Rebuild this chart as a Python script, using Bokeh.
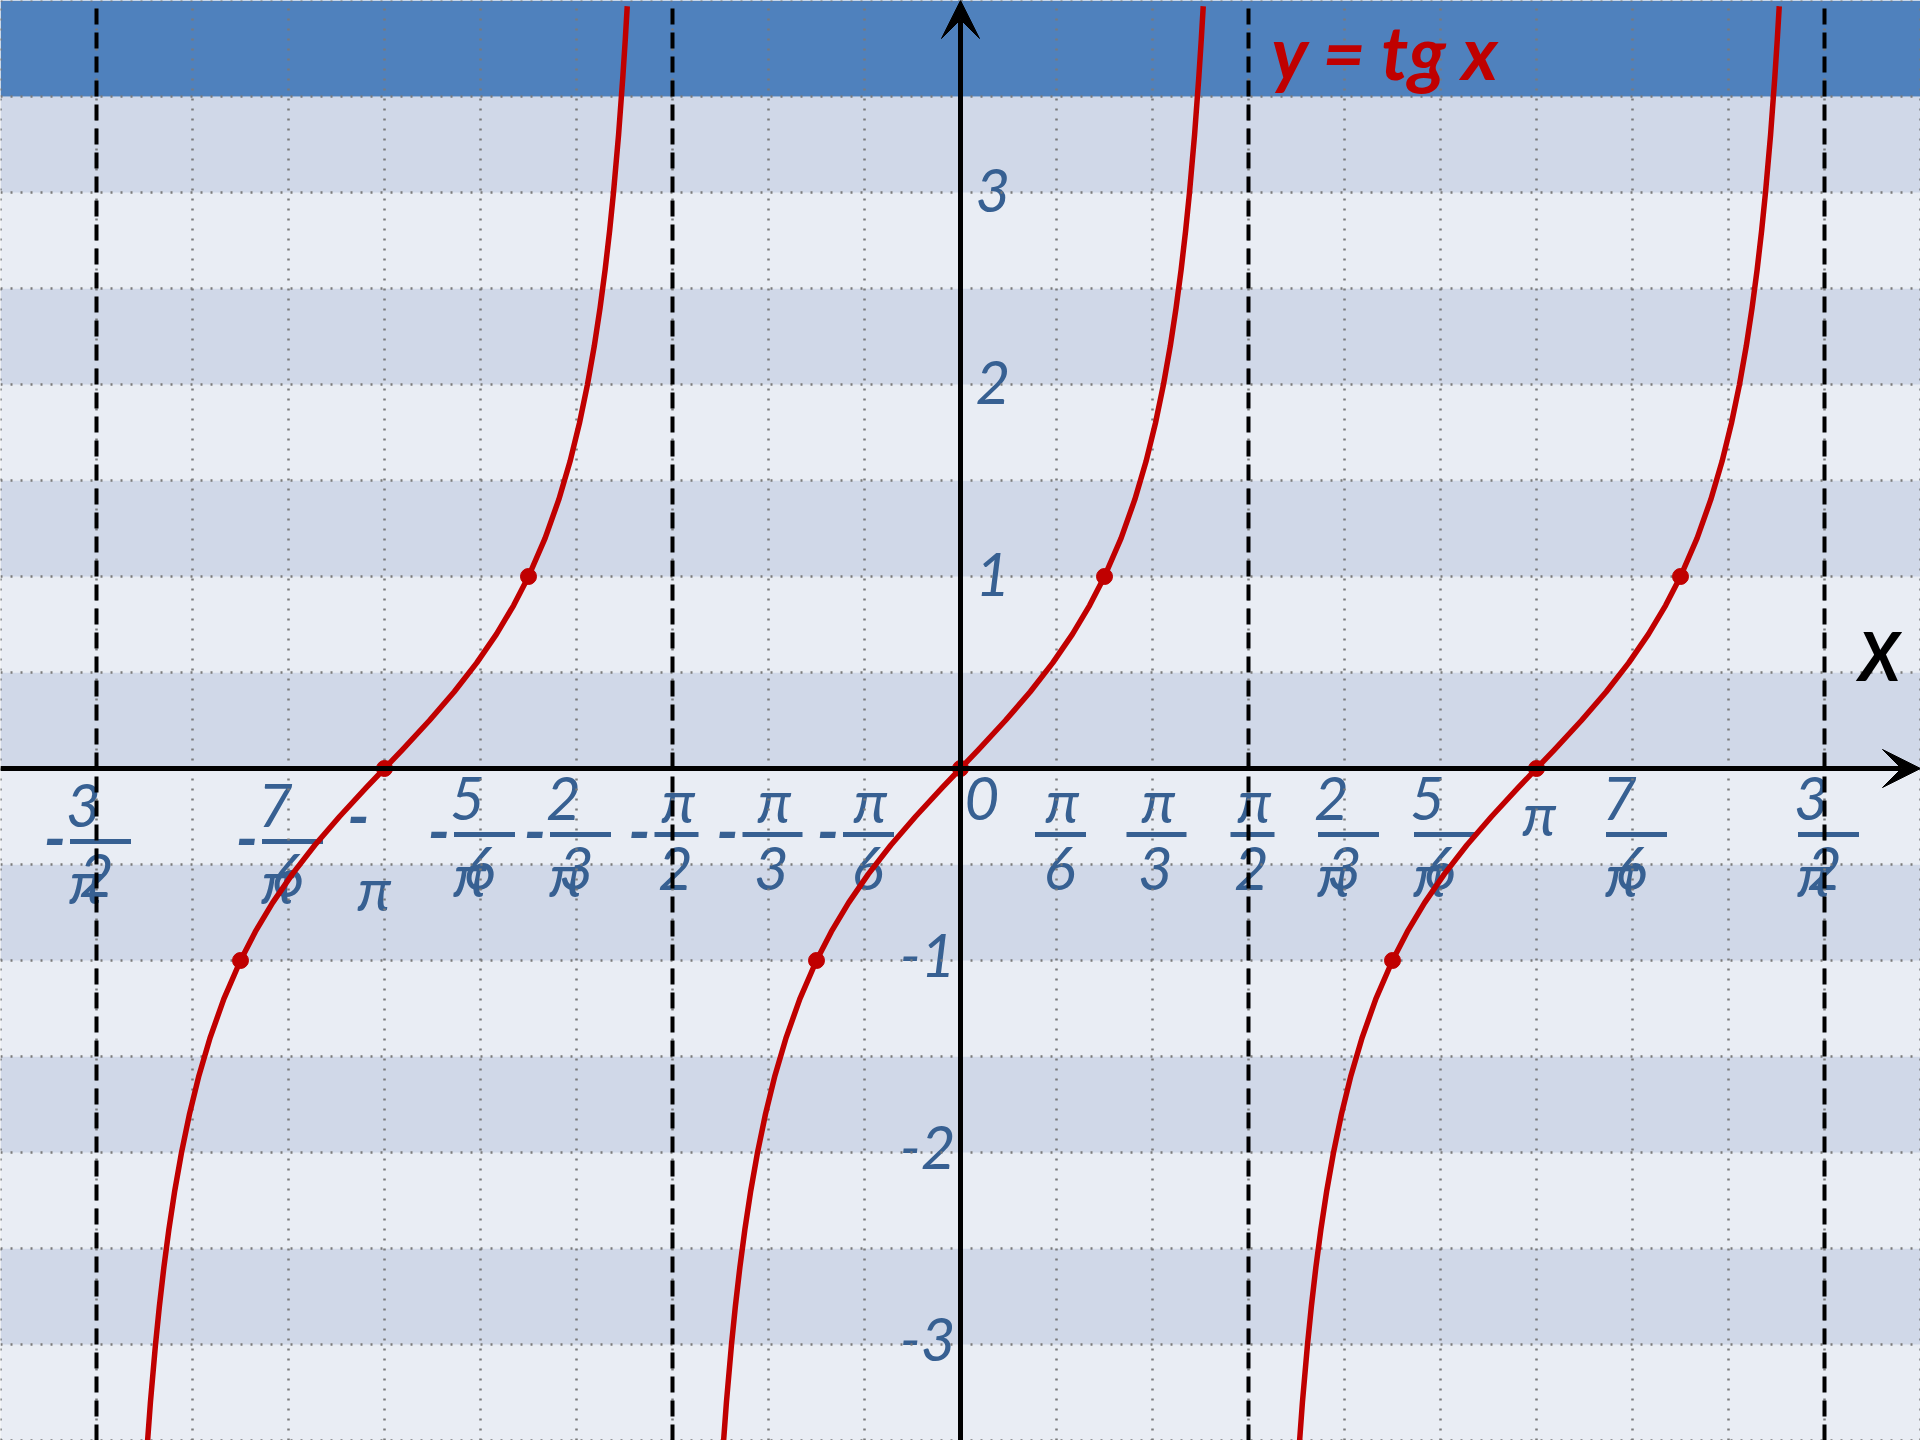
import math
from bokeh.plotting import figure
from bokeh.models import ColumnDataSource, Arrow, VeeHead, Range1d
from bokeh.core.properties import value
from bokeh.embed import file_html
from bokeh.resources import INLINE

PI = math.pi

# ---------------- data ----------------
title_text = "y = tg x"
x_axis_label = "X"

# one branch of y = tg x: offset from the branch centre (rad) and value
branch_dx = [-1.2998, -1.2766, -1.2490, -1.2278, -1.2036, -1.1760, -1.1442, -1.1071, -1.0637,
             -1.0122, -0.9505, -0.8761, -0.7854, -0.7045, -0.6107, -0.5029, -0.3805, -0.2450,
             -0.0997, 0.0, 0.0997, 0.2450, 0.3805, 0.5029, 0.6107, 0.7045, 0.7854, 0.8761,
             0.9505, 1.0122, 1.0637, 1.1071, 1.1442, 1.1760, 1.2036, 1.2278, 1.2490, 1.2766,
             1.2998, 1.3135, 1.3240]
branch_y = [-3.6, -3.3, -3.0, -2.8, -2.6, -2.4, -2.2, -2.0, -1.8, -1.6, -1.4, -1.2, -1.0,
            -0.85, -0.7, -0.55, -0.4, -0.25, -0.1, 0.0, 0.1, 0.25, 0.4, 0.55, 0.7, 0.85, 1.0,
            1.2, 1.4, 1.6, 1.8, 2.0, 2.2, 2.4, 2.6, 2.8, 3.0, 3.3, 3.6, 3.8, 3.97]
branch_centres = [-PI, 0.0, PI]

# marked points
dot_x = [-5 * PI / 4, -PI, -3 * PI / 4, -PI / 4, 0.0, PI / 4, 3 * PI / 4, PI, 5 * PI / 4]
dot_y = [-1, 0, 1, -1, 0, 1, -1, 0, 1]

# asymptotes
asymptote_x = [-3 * PI / 2, -PI / 2, PI / 2, 3 * PI / 2]

# x ticks (in units of pi) and their labels
x_tick_coef = [-3/2, -7/6, -1, -5/6, -2/3, -1/2, -1/3, -1/6, 0, 1/6, 1/3, 1/2, 2/3, 5/6, 1, 7/6, 3/2]
x_tick_labels = ["-3π/2", "-7π/6", "-π", "-5π/6", "-2π/3", "-π/2", "-π/3", "-π/6", "0",
                 "π/6", "π/3", "π/2", "2π/3", "5π/6", "π", "7π/6", "3π/2"]

# y ticks
y_ticks = [-3, -2, -1, 1, 2, 3]
y_tick_labels = ["-3", "-2", "-1", "1", "2", "3"]

# ---------------- layout ----------------
W, H = 1920, 1440
XMIN, XMAX = -5 * PI / 3, 5 * PI / 3
YMIN, YMAX = -3.5, 4.0
sx = W / (XMAX - XMIN)
sy = H / (YMAX - YMIN)
LBL_PX = 60
SIGN_PX = 64
TITLE_PX = 74
XNAME_PX = 66


def X(px):
    return XMIN + px / sx


def Y(py, fpx=LBL_PX):
    # wanted baseline py (screen px) -> data y, compensating the renderer's baseline offset
    return YMAX - (py - 0.39 * fpx) / sy


BLUE_TXT = "#376092"
RED = "#C00000"
FONT = value("Lato")

p = figure(width=W, height=H, x_range=Range1d(XMIN, XMAX), y_range=Range1d(YMIN, YMAX),
           x_axis_type=None, y_axis_type=None, toolbar_location=None,
           output_backend="svg", min_border=0, outline_line_color=None)
p.background_fill_color = "#E9EDF4"
p.border_fill_color = "#FFFFFF"

# background bands
n_bands = int(round((YMAX - YMIN) / 0.5))
band_bottom = [YMIN + 0.5 * i for i in range(n_bands)]
band_top = [b + 0.5 for b in band_bottom]
band_col = []
for i in range(n_bands):
    if i == n_bands - 1:
        band_col.append("#4F81BD")
    elif i % 2 == 1:
        band_col.append("#D0D8E8")
    else:
        band_col.append("#E9EDF4")
p.quad(left=XMIN, right=XMAX, bottom=band_bottom, top=band_top, fill_color=band_col,
       line_color=None)

# ---------------- tick labels (below the grid) ----------------
left_t = dict(x=[], y=[], text=[])
center_t = dict(x=[], y=[], text=[])
right_t = dict(x=[], y=[], text=[])
signs = dict(x=[], y=[], text=[])
bars = dict(x=[], y=[], w=[])


def add(d, px, py, t, fpx=LBL_PX):
    d["x"].append(X(px))
    d["y"].append(Y(py, fpx))
    d["text"].append(t)


for c, lab in zip(x_tick_coef, x_tick_labels):
    T = (c * PI - XMIN) * sx
    neg = lab.startswith("-")
    body = lab[1:] if neg else lab
    drop = 7 if c < -1 else 0
    if lab == "0":
        add(left_t, T + 4, 821, "0")
    elif body == "π":
        if neg:
            add(signs, T - 15, 840, "-", SIGN_PX)
            add(center_t, T - 10, 911, "π")
        else:
            add(center_t, T + 3, 836, "π")
    else:
        num, den = body.split("/")
        if num == "π":
            w = {"2": 44, "3": 60, "6": 51}[den]
            add(center_t, T + 6, 823 + drop, "π")
            add(center_t, T + 3, 891 + drop, den)
        else:
            w = 61
            bl = T + 4 - w / 2
            add(left_t, bl - 4, 821 + drop, num.replace("π", ""))
            add(left_t, bl - 1, 897 + drop, "π")
            add(left_t, bl + 9, 891 + drop, den)
        bars["x"].append(X(T + 4))
        bars["y"].append(YMAX - (834 + drop) / sy)
        bars["w"].append(w)
        if neg:
            add(signs, T + 4 - w / 2 - 4, 855 + drop, "-", SIGN_PX)

for v, lab in zip(y_ticks, y_tick_labels):
    ty = (YMAX - v) * sy
    if v > 0:
        add(left_t, 975, ty + 21, lab)
    else:
        add(right_t, 955, ty + 18, lab)

for d, al in ((left_t, "left"), (center_t, "center"), (right_t, "right")):
    p.text(x="x", y="y", text="text", source=ColumnDataSource(d), text_align=al,
           text_baseline="alphabetic", text_font=FONT, text_font_style="italic",
           text_font_size=f"{LBL_PX}px", text_color=BLUE_TXT)
p.text(x="x", y="y", text="text", source=ColumnDataSource(signs), text_align="right",
       text_baseline="alphabetic", text_font=FONT, text_font_style="bold italic",
       text_font_size=f"{SIGN_PX}px", text_color=BLUE_TXT)

p.rect(x="x", y="y", width="w", height=5, width_units="screen", height_units="screen",
       source=ColumnDataSource(bars), fill_color=BLUE_TXT, line_color=None)

# ---------------- grid ----------------
grid_x = [k * PI / 6 for k in range(-10, 11)]
grid_y = [YMIN + 0.5 * i for i in range(n_bands + 1)]
p.segment(x0=grid_x, y0=YMIN, x1=grid_x, y1=YMAX, line_color="#7A7A7A", line_width=2.5,
          line_dash="2 8")
p.segment(x0=XMIN, y0=grid_y, x1=XMAX, y1=grid_y, line_color="#7A7A7A", line_width=2.5,
          line_dash="2 8")

# asymptotes
p.segment(x0=asymptote_x, y0=YMIN, x1=asymptote_x, y1=YMAX, line_color="black",
          line_width=4, line_dash="16 8")

# axes with arrows
p.add_layout(Arrow(end=VeeHead(size=38, fill_color="black", line_color="black", line_width=1),
                   x_start=XMIN, y_start=0, x_end=XMAX, y_end=0,
                   line_color="black", line_width=5))
p.add_layout(Arrow(end=VeeHead(size=38, fill_color="black", line_color="black", line_width=1),
                   x_start=0, y_start=YMIN, x_end=0, y_end=YMAX,
                   line_color="black", line_width=5))

# ---------------- curves ----------------
for c in branch_centres:
    p.line(x=[c + d for d in branch_dx], y=branch_y, line_color=RED, line_width=5.5,
           line_join="round")

p.scatter(x=dot_x, y=dot_y, size=16, fill_color=RED, line_color=RED)

# title and axis name
p.text(x=[X(1271)], y=[Y(80, TITLE_PX)], text=[title_text], text_align="left",
       text_baseline="alphabetic", text_font=FONT, text_font_style="bold italic",
       text_font_size=f"{TITLE_PX}px", text_color=RED)
p.text(x=[X(1858)], y=[Y(681, XNAME_PX)], text=[x_axis_label], text_align="left",
       text_baseline="alphabetic", text_font=FONT, text_font_style="bold italic",
       text_font_size=f"{XNAME_PX}px", text_color="black")

open("out.html", "w").write(file_html(p, INLINE))
